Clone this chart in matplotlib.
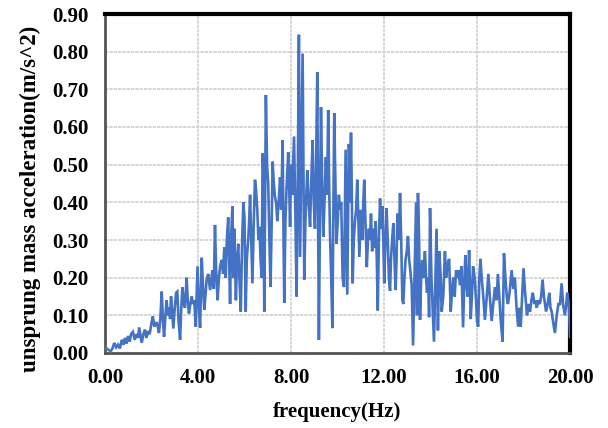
import matplotlib
matplotlib.use("Agg")
import matplotlib.pyplot as plt

freq = [0.00, 0.05, 0.15, 0.25, 0.32, 0.40, 0.48, 0.56, 0.64, 0.72, 0.80, 0.86, 0.92, 0.99, 1.06, 1.12, 1.20, 1.28, 1.36, 1.42,
        1.47, 1.53, 1.58, 1.65, 1.72, 1.78, 1.85, 1.92, 2.00, 2.06, 2.12, 2.22, 2.27, 2.32, 2.38, 2.44, 2.49, 2.54, 2.60, 2.65,
        2.70, 2.75, 2.80, 2.84, 2.90, 2.94, 3.00, 3.06, 3.11, 3.16, 3.23, 3.28, 3.33, 3.39, 3.44, 3.51, 3.56, 3.61, 3.67, 3.73,
        3.78, 3.84, 3.90, 3.98, 4.04, 4.09, 4.16, 4.22, 4.27, 4.33, 4.37, 4.44, 4.52, 4.58, 4.62, 4.68, 4.73, 4.78, 4.84, 4.90,
        4.95, 5.02, 5.08, 5.13, 5.19, 5.24, 5.30, 5.38, 5.42, 5.48, 5.52, 5.56, 5.60, 5.63, 5.68, 5.73, 5.78, 5.84, 5.90, 5.95,
        6.00, 6.05, 6.10, 6.16, 6.20, 6.24, 6.29, 6.34, 6.40, 6.45, 6.50, 6.55, 6.60, 6.64, 6.69, 6.74, 6.78, 6.81, 6.85, 6.92,
        6.97, 7.02, 7.07, 7.12, 7.17, 7.21, 7.26, 7.31, 7.36, 7.41, 7.47, 7.53, 7.58, 7.64, 7.68, 7.71, 7.76, 7.81, 7.88, 7.92,
        7.96, 8.00, 8.05, 8.09, 8.13, 8.18, 8.24, 8.29, 8.34, 8.39, 8.44, 8.50, 8.54, 8.57, 8.62, 8.66, 8.70, 8.76, 8.82, 8.87,
        8.93, 8.98, 9.03, 9.08, 9.13, 9.17, 9.20, 9.25, 9.29, 9.34, 9.39, 9.44, 9.50, 9.55, 9.60, 9.64, 9.68, 9.73, 9.78, 9.82,
        9.86, 9.91, 9.96, 10.01, 10.06, 10.11, 10.16, 10.22, 10.28, 10.35, 10.42, 10.49, 10.54, 10.58, 10.62, 10.65, 10.70, 10.75, 10.80, 10.85,
        10.90, 10.94, 11.01, 11.07, 11.11, 11.15, 11.20, 11.26, 11.31, 11.35, 11.40, 11.44, 11.49, 11.54, 11.59, 11.64, 11.69, 11.73, 11.78, 11.83,
        11.88, 11.93, 11.97, 12.01, 12.06, 12.11, 12.16, 12.21, 12.26, 12.30, 12.35, 12.40, 12.45, 12.50, 12.54, 12.58, 12.64, 12.69, 12.74, 12.79,
        12.83, 12.88, 12.93, 12.98, 13.03, 13.08, 13.13, 13.19, 13.25, 13.31, 13.38, 13.42, 13.46, 13.51, 13.55, 13.60, 13.65, 13.70, 13.76, 13.81,
        13.85, 13.90, 13.94, 13.98, 14.04, 14.10, 14.15, 14.21, 14.26, 14.32, 14.38, 14.44, 14.48, 14.55, 14.62, 14.67, 14.72, 14.80, 14.87, 14.93,
        14.98, 15.04, 15.10, 15.15, 15.20, 15.27, 15.33, 15.40, 15.46, 15.50, 15.55, 15.60, 15.66, 15.73, 15.78, 15.83, 15.90, 15.95, 16.00, 16.05,
        16.10, 16.15, 16.20, 16.27, 16.34, 16.42, 16.49, 16.55, 16.63, 16.70, 16.77, 16.84, 16.90, 16.96, 17.02, 17.10, 17.16, 17.22, 17.28, 17.33,
        17.40, 17.49, 17.56, 17.63, 17.70, 17.77, 17.83, 17.88, 17.94, 18.00, 18.07, 18.15, 18.22, 18.28, 18.34, 18.40, 18.47, 18.52, 18.57, 18.63,
        18.70, 18.76, 18.82, 18.88, 18.97, 19.04, 19.11, 19.16, 19.21, 19.28, 19.35, 19.43, 19.50, 19.57, 19.64, 19.70, 19.78, 19.84, 19.88, 19.93,
        19.97, 20.00]

accel = [0.010, 0.013, 0.008, 0.005, 0.012, 0.027, 0.015, 0.022, 0.012, 0.035, 0.022, 0.040, 0.025, 0.045, 0.030, 0.050, 0.056, 0.035, 0.050, 0.040,
         0.068, 0.045, 0.027, 0.050, 0.062, 0.040, 0.058, 0.050, 0.080, 0.097, 0.070, 0.082, 0.070, 0.053, 0.090, 0.163, 0.090, 0.043, 0.100, 0.140,
         0.100, 0.120, 0.090, 0.150, 0.100, 0.065, 0.120, 0.160, 0.163, 0.088, 0.035, 0.120, 0.175, 0.130, 0.120, 0.200, 0.140, 0.105, 0.130, 0.150,
         0.130, 0.140, 0.070, 0.230, 0.120, 0.067, 0.253, 0.170, 0.115, 0.160, 0.195, 0.210, 0.167, 0.200, 0.220, 0.170, 0.340, 0.220, 0.140, 0.200,
         0.230, 0.247, 0.210, 0.280, 0.200, 0.300, 0.360, 0.130, 0.300, 0.390, 0.200, 0.330, 0.220, 0.140, 0.250, 0.290, 0.200, 0.110, 0.300, 0.400,
         0.360, 0.110, 0.250, 0.300, 0.350, 0.420, 0.300, 0.185, 0.350, 0.460, 0.430, 0.380, 0.300, 0.335, 0.250, 0.200, 0.530, 0.480, 0.110, 0.685,
         0.500, 0.450, 0.300, 0.176, 0.350, 0.508, 0.450, 0.415, 0.400, 0.350, 0.400, 0.467, 0.380, 0.565, 0.300, 0.133, 0.350, 0.440, 0.533, 0.450,
         0.335, 0.500, 0.420, 0.500, 0.575, 0.400, 0.150, 0.450, 0.845, 0.255, 0.500, 0.795, 0.450, 0.195, 0.350, 0.420, 0.485, 0.400, 0.335, 0.450,
         0.565, 0.400, 0.330, 0.500, 0.746, 0.300, 0.035, 0.400, 0.653, 0.450, 0.308, 0.400, 0.520, 0.420, 0.645, 0.450, 0.310, 0.200, 0.066, 0.350,
         0.637, 0.450, 0.290, 0.350, 0.420, 0.380, 0.400, 0.200, 0.175, 0.540, 0.155, 0.555, 0.400, 0.585, 0.400, 0.185, 0.300, 0.350, 0.380, 0.460,
         0.350, 0.255, 0.380, 0.300, 0.400, 0.460, 0.350, 0.228, 0.300, 0.330, 0.300, 0.370, 0.270, 0.330, 0.280, 0.350, 0.250, 0.113, 0.300, 0.410,
         0.330, 0.390, 0.300, 0.185, 0.300, 0.385, 0.300, 0.200, 0.165, 0.250, 0.300, 0.345, 0.250, 0.167, 0.250, 0.370, 0.300, 0.425, 0.300, 0.140,
         0.130, 0.200, 0.250, 0.270, 0.310, 0.250, 0.220, 0.180, 0.020, 0.200, 0.400, 0.100, 0.425, 0.300, 0.088, 0.200, 0.247, 0.200, 0.270, 0.200,
         0.160, 0.200, 0.095, 0.385, 0.200, 0.110, 0.030, 0.200, 0.330, 0.060, 0.270, 0.200, 0.110, 0.150, 0.270, 0.200, 0.230, 0.250, 0.110, 0.170,
         0.200, 0.150, 0.220, 0.200, 0.220, 0.180, 0.230, 0.068, 0.200, 0.260, 0.180, 0.150, 0.273, 0.090, 0.150, 0.230, 0.200, 0.150, 0.085, 0.070,
         0.200, 0.250, 0.200, 0.150, 0.088, 0.150, 0.210, 0.150, 0.085, 0.130, 0.175, 0.140, 0.210, 0.150, 0.088, 0.030, 0.265, 0.200, 0.150, 0.130,
         0.160, 0.220, 0.170, 0.200, 0.120, 0.070, 0.120, 0.070, 0.150, 0.225, 0.160, 0.100, 0.130, 0.110, 0.140, 0.160, 0.130, 0.140, 0.120, 0.140,
         0.130, 0.150, 0.195, 0.150, 0.110, 0.130, 0.160, 0.120, 0.110, 0.080, 0.053, 0.100, 0.130, 0.130, 0.185, 0.130, 0.100, 0.130, 0.160, 0.140,
         0.100, 0.043]

x_ticks = [0, 4, 8, 12, 16, 20]
y_ticks = [0.0, 0.1, 0.2, 0.3, 0.4, 0.5, 0.6, 0.7, 0.8, 0.9]
x_label = "frequency(Hz)"
y_label = "unsprung mass acceleration(m/s^2)"

plt.rcParams['font.family'] = ['Liberation Serif', 'DejaVu Serif']
plt.rcParams['font.weight'] = 'bold'

fig = plt.figure(figsize=(6.08, 4.28), dpi=100)
ax = fig.add_axes([105/608, 1 - 353/428, 465/608, 339/428])

ax.plot(freq, accel, color='#4472C4', linewidth=1.9, solid_joinstyle='miter', zorder=3)

ax.set_xlim(0, 20)
ax.set_ylim(0, 0.9)
ax.set_xticks(x_ticks)
ax.set_yticks(y_ticks)
ax.set_xticklabels([f"{v:.2f}" for v in x_ticks], fontsize=15, fontweight='bold')
ax.set_yticklabels([f"{v:.2f}" for v in y_ticks], fontsize=15, fontweight='bold')
ax.tick_params(axis='x', length=0, pad=11)
ax.tick_params(axis='y', length=0, pad=12)

ax.grid(True, color='#d0d0d0', linewidth=1.2, linestyle=(0, (2, 0.6)), zorder=0)
ax.set_axisbelow(True)

for s in ['top', 'right']:
    ax.spines[s].set_color('black')
    ax.spines[s].set_linewidth(3)
for s in ['left', 'bottom']:
    ax.spines[s].set_color('#555555')
    ax.spines[s].set_linewidth(2)

ax.set_xlabel(x_label, fontsize=15, fontweight='bold', labelpad=10)
ax.set_ylabel(y_label, fontsize=16.5, fontweight='bold')
ax.yaxis.set_label_coords(-0.138, 0.455)

fig.savefig("out.png", dpi=100)
